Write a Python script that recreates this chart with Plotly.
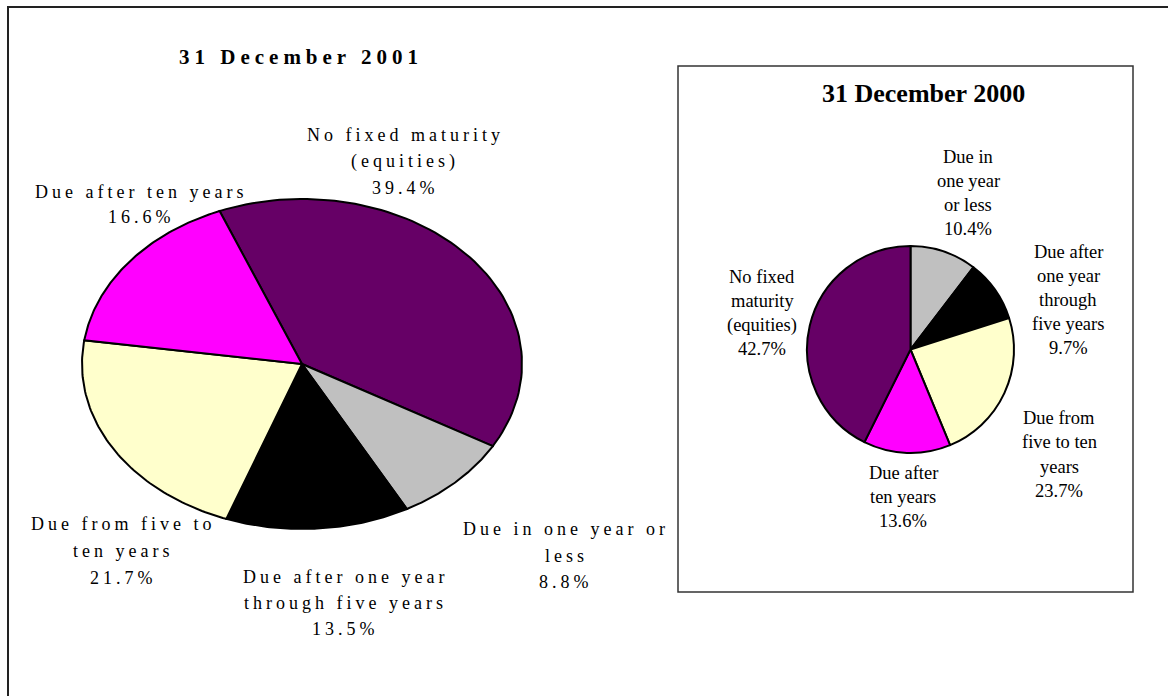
import numpy as np
import plotly.graph_objects as go

# ---- data -------------------------------------------------------------
# 31 December 2001 (clockwise from the top-left boundary)
cats_2001 = [
    "No fixed maturity\n(equities)",
    "Due in one year or\nless",
    "Due after one year\nthrough five years",
    "Due from five to\nten years",
    "Due after ten years",
]
vals_2001 = [39.4, 8.8, 13.5, 21.7, 16.6]

# 31 December 2000 (clockwise from 12 o'clock)
cats_2000 = [
    "Due in\none year\nor less",
    "Due after\none year\nthrough\nfive years",
    "Due from\nfive to ten\nyears",
    "Due after\nten years",
    "No fixed\nmaturity\n(equities)",
]
vals_2000 = [10.4, 9.7, 23.7, 13.6, 42.7]

colors_2001 = ["#660066", "#C0C0C0", "#000000", "#FFFFCC", "#FF00FF"]
colors_2000 = ["#C0C0C0", "#000000", "#FFFFCC", "#FF00FF", "#660066"]

W, H = 1168, 696
fig = go.Figure()

# ---- left pie: flattened (elliptical) pie built from the values --------
cx, cy, ra, rb = 302, 364, 220, 165
start_deg = 112.0  # parametric angle of the first slice edge
cum = start_deg
total = sum(vals_2001)
for v, c in zip(vals_2001, colors_2001):
    sweep = 360.0 * v / total
    t = np.radians(np.linspace(cum, cum - sweep, 80))
    xs = np.concatenate([[cx], cx + ra * np.cos(t), [cx]])
    ys = np.concatenate([[cy], cy - rb * np.sin(t), [cy]])
    fig.add_trace(go.Scatter(
        x=xs, y=ys, mode="lines", fill="toself", fillcolor=c,
        line=dict(color="#000000", width=2), hoverinfo="skip",
        showlegend=False,
    ))
    cum -= sweep

# ---- right pie ---------------------------------------------------------
pcx, pcy, pr = 910.5, 349.5, 103.5
fig.add_trace(go.Pie(
    labels=[c.replace("\n", " ") for c in cats_2000], values=vals_2000,
    marker=dict(colors=colors_2000, line=dict(color="#000000", width=2)),
    sort=False, direction="clockwise", rotation=0,
    textinfo="none", hoverinfo="skip", showlegend=False,
    domain=dict(x=[(pcx - pr) / W, (pcx + pr) / W],
                y=[(H - pcy - pr) / H, (H - pcy + pr) / H]),
))

# ---- labels ------------------------------------------------------------
annotations = []


def add_label(text_lines, x, y0, dy, size, spacing=None, bold=False):
    for i, line in enumerate(text_lines):
        txt = line
        if spacing:
            txt = f'<span style="letter-spacing:{spacing}px">{txt}</span>'
        if bold:
            txt = f"<b>{txt}</b>"
        annotations.append(dict(
            x=x, y=y0 + i * dy, xref="x", yref="y", text=txt,
            showarrow=False, xanchor="center", yanchor="middle",
            font=dict(family="Liberation Serif", size=size, color="#000000"),
        ))


left_pos = [(405, 135, 26.5), (566, 529, 26.5), (345, 577, 26.0),
            (123, 524, 27.0), (141, 192, 25.0)]
for cat, v, (x, y0, dy) in zip(cats_2001, vals_2001, left_pos):
    add_label(cat.split("\n") + [f"{v:.1f}%"], x, y0, dy, 18, spacing=4)

right_pos = [(968, 157, 24), (1068, 252, 24), (1059, 418, 24.3),
             (903, 473, 24), (762, 277, 24)]
for cat, v, (x, y0, dy) in zip(cats_2000, vals_2000, right_pos):
    add_label(cat.split("\n") + [f"{v:.1f}%"], x, y0, dy, 18.5)

add_label(["31 December 2001"], 301, 57, 0, 21, spacing=5, bold=True)
add_label(["31 December 2000"], 923, 93, 0, 26, bold=True)

# ---- frames ------------------------------------------------------------
shapes = [
    dict(type="rect", xref="x", yref="y", x0=8, y0=7, x1=1200, y1=720,
         line=dict(color="#222222", width=2), layer="below"),
    dict(type="rect", xref="x", yref="y", x0=678, y0=66, x1=1133, y1=592,
         line=dict(color="#333333", width=1.5), layer="below"),
]

fig.update_layout(
    width=W, height=H,
    margin=dict(l=0, r=0, t=0, b=0),
    paper_bgcolor="#FFFFFF", plot_bgcolor="#FFFFFF",
    xaxis=dict(range=[0, W], visible=False, fixedrange=True),
    yaxis=dict(range=[H, 0], visible=False, fixedrange=True),
    annotations=annotations, shapes=shapes,
)

fig.write_html("out.html")
